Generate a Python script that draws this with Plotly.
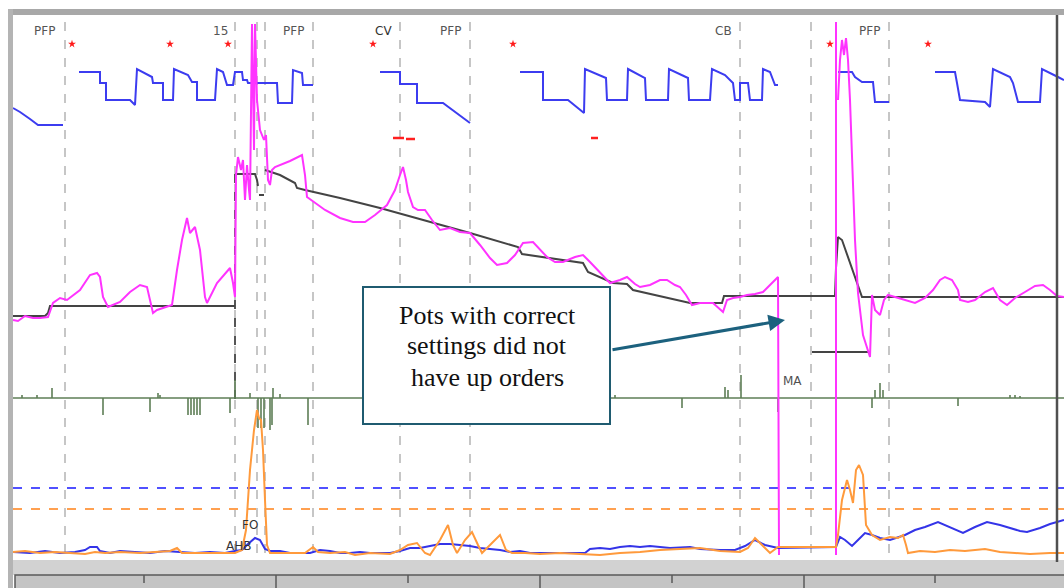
import plotly.graph_objects as go

# ---------------- data (x = time index, y = screen-style signal level) -------------
event_lines_x = [65, 235, 257, 265, 313, 400, 470, 740, 811, 889]
top_label_x = [44, 220, 293, 383, 450, 723, 869]
top_label_text = ["PFP", "15", "PFP", "CV", "PFP", "CB", "PFP"]
red_star_x = [72, 170, 228, 373, 513, 830, 928]

# blue step (setpoint) trace, None separates segments
blue_top_x = [13, 20, 30, 38, 63, None,
              79, 100, 100, 106, 106, 130, 135, 137, 152, 153, 163, 163, 173, 174, 188, 192, 197, 197, 215,
              217, 223, 227, 233, 235, 242, 243, 247, 248, 277, 278, 292, 293, 302, 303, 313, None,
              380, 400, 400, 417, 417, 443, 470, None,
              520, 543, 543, 568, 584, 585, 606, 607, 627, 628, 645, 646, 668, 669, 688, 689, 710, 712, 725,
              730, 733, 735, 740, 740, 748, 750, 762, 763, 770, 775, 778, None,
              838, 852, 855, 862, 873, 875, 889, None,
              935, 955, 957, 960, 985, 990, 993, 1010, 1013, 1018, 1040, 1042, 1058, 1064]
blue_top_y = [108, 112, 119, 125, 125, None,
              72, 72, 83, 83, 100, 100, 105, 69, 77, 83, 83, 100, 100, 69, 75, 82, 82, 100, 100,
              69, 72, 85, 85, 72, 72, 80, 80, 83, 83, 103, 103, 70, 73, 85, 85, None,
              72, 72, 84, 84, 103, 103, 123, None,
              72, 72, 100, 100, 113, 69, 78, 100, 100, 69, 78, 100, 100, 69, 78, 100, 100, 69, 75,
              80, 83, 100, 100, 83, 83, 100, 100, 69, 72, 85, 85, None,
              72, 72, 77, 82, 82, 102, 102, None,
              72, 72, 83, 100, 102, 107, 69, 77, 83, 102, 102, 69, 77, 80]

red_dash_x = [393, 404, None, 406, 415, None, 591, 598]
red_dash_y = [138, 138, None, 139, 139, None, 138, 138]

# black (model) line
black_x = [13, 45, 48, 50, 235, None,
           235, 255, 257, 258, None, 259, 264, None,
           265, 280, 295, 297, 305, 340, 380, 420, 470, 518, 522, 583, 588, 613, 627, 633, 663, 690,
           722, 724, 835, 836, 838, 842, 862, 1064, None,
           812, 868]
black_y = [316, 316, 313, 306, 306, None,
           174, 174, 180, 186, None, 195, 195, None,
           170, 175, 183, 188, 190, 198, 208, 219, 233, 247, 254, 263, 272, 283, 284, 290, 297, 303,
           303, 296, 296, 268, 237, 240, 297, 297, None,
           352, 352]

# magenta (measured) line
mag_x = [13, 18, 25, 33, 40, 48, 53, 60, 67, 80, 90, 97, 100, 103, 108, 120, 130, 140, 147, 150, 153, 157,
         165, 172, 177, 182, 187, 190, 195, 200, 205, 207, 217, 230, 233, 235,
         236, 238, 241, 243, 245, 247, 249, 250, 252, 254, 255, 257, 260, 262, 264, 266, 268, 270, 272, 275,
         280, 290, 302, 305, 307, 315, 325, 340, 353, 365, 375, 387, 395, 400, 403, 406, 408, 413, 418, 425,
         432, 440, 450, 460, 470, 480, 490, 497, 507, 515, 523, 533, 540, 547, 555, 563, 575, 583, 590, 600,
         610, 620, 627, 635, 640, 650, 660, 667, 675, 680, 686, 692, 700, 713, 720, 723, 727, 733, 740, 747,
         755, 763, 770, 778, 779, None,
         836, 836, None,
         838, 840, 842, 844, 846, 848, 850, 852, 855, 858, 863, 870, 872, 875, 880, 884, 888, 895, 905, 915,
         925, 933, 940, 945, 952, 958, 960, 968, 975, 985, 993, 1000, 1007, 1015, 1025, 1035, 1043, 1050,
         1057, 1064]
mag_y = [320, 321, 316, 318, 318, 317, 303, 298, 300, 290, 275, 273, 277, 297, 307, 302, 292, 285, 287, 300, 313, 310,
         307, 305, 270, 240, 218, 233, 227, 250, 297, 303, 283, 268, 283, 297,
         175, 157, 170, 160, 200, 165, 190, 200, 24, 150, 24, 100, 130, 135, 140, 135, 180, 185, 170, 167,
         165, 161, 155, 175, 197, 203, 210, 218, 222, 222, 215, 205, 190, 175, 167, 180, 192, 207, 210, 210,
         220, 230, 228, 232, 233, 245, 258, 265, 263, 255, 243, 242, 250, 257, 262, 262, 257, 255, 262, 272,
         283, 280, 277, 284, 287, 285, 280, 280, 285, 287, 295, 305, 303, 303, 310, 312, 300, 298, 297, 295,
         294, 292, 285, 277, 555, None,
         22, 555, None,
         100, 60, 40, 55, 38, 60, 100, 160, 240, 293, 335, 357, 295, 310, 315, 300, 295, 297, 300, 303,
         298, 290, 280, 277, 280, 290, 300, 302, 300, 292, 288, 300, 305, 298, 292, 286, 285, 290,
         296, 297]

# green event histogram
green_base_y = 398
green_tick_x = [22, 37, 52, 103, 150, 158, 160, 188, 191, 194, 197, 200, 230, 235, 250, 258, 261, 264, 270,
                272, 273, 280, 308, 615, 682, 725, 728, 741, 778, 872, 875, 880, 883, 958, 1010, 1015, 1020]
green_tick_end = [395, 395, 388, 415, 412, 393, 395, 415, 415, 415, 415, 415, 413, 380, 393, 428, 428, 428, 430,
                  425, 388, 394, 425, 395, 408, 387, 390, 375, 412, 408, 390, 383, 390, 406, 395, 395, 396]

# bottom traces
blue_low_x = [13, 30, 45, 60, 75, 85, 90, 97, 100, 110, 120, 135, 150, 165, 180, 195, 210, 225, 235, 242, 248,
              255, 260, 265, 270, 280, 290, 310, 320, 330, 340, 350, 360, 370, 390, 400, 410, 420, 430, 440,
              450, 460, 470, 480, 490, 500, 510, 520, 530, 550, 570, 585, 590, 600, 610, 620, 630, 640, 650,
              660, 670, 690, 700, 720, 735, 745, 755, 765, 775, 778, 836, 840, 845, 852, 858, 865, 872, 880,
              890, 898, 905, 915, 925, 938, 945, 955, 963, 975, 987, 1000, 1010, 1020, 1027, 1040, 1050, 1064]
blue_low_y = [552, 553, 551, 553, 552, 550, 547, 547, 551, 553, 551, 552, 553, 551, 552, 553, 552, 553, 551, 550, 544,
              538, 540, 549, 551, 551, 553, 553, 550, 551, 553, 553, 552, 553, 553, 551, 548, 548, 546, 544,
              544, 545, 546, 548, 549, 550, 552, 551, 553, 553, 553, 553, 549, 548, 549, 547, 546, 547, 546,
              547, 548, 547, 549, 550, 550, 546, 540, 545, 547, 548, 547, 537, 540, 546, 540, 533, 535, 538,
              540, 537, 535, 530, 527, 522, 525, 530, 533, 527, 522, 525, 528, 531, 532, 528, 524, 520]
orange_low_x = [13, 25, 40, 55, 70, 85, 95, 105, 120, 140, 155, 170, 177, 182, 200, 220, 235, 242, 246, 250, 254,
                257, 259, 261, 263, 265, 267, 270, 290, 305, 313, 318, 330, 345, 355, 370, 390, 400, 408, 417,
                425, 430, 440, 448, 453, 457, 465, 472, 478, 482, 490, 500, 506, 512, 525, 540, 560, 580, 600,
                620, 640, 660, 680, 700, 720, 740, 748, 755, 762, 770, 778, 836, 838, 842, 847, 850, 853, 856,
                859, 863, 866, 872, 880, 890, 898, 903, 906, 908, 920, 935, 950, 965, 985, 1000, 1015, 1030,
                1050, 1064]
orange_low_y = [552, 551, 553, 552, 553, 554, 552, 553, 552, 553, 552, 551, 548, 553, 553, 553, 553, 550, 530, 470, 430,
                410, 418, 420, 450, 500, 545, 553, 553, 553, 547, 552, 553, 552, 555, 553, 554, 550, 545, 543,
                553, 555, 540, 525, 545, 553, 540, 532, 545, 553, 545, 535, 550, 553, 553, 554, 553, 554, 555,
                553, 552, 550, 549, 548, 551, 552, 548, 538, 545, 553, 547, 547, 535, 500, 480, 490, 503, 470,
                465, 475, 525, 535, 540, 537, 538, 535, 545, 553, 551, 552, 550, 551, 549, 552, 553, 554,
                553, 553]
blue_limit_y = 488
orange_limit_y = 509

scroll_major_x = [276, 540, 804]
scroll_minor_x = [144, 408, 672, 935]

# ---------------- figure ----------------
fig = go.Figure()

shapes = []
# frame
shapes.append(dict(type="rect", x0=8, x1=1064, y0=9, y1=15, fillcolor="#a8a8a8", line_width=0, layer="above"))
shapes.append(dict(type="rect", x0=8, x1=13, y0=9, y1=588, fillcolor="#b4b4b4", line_width=0, layer="above"))
shapes.append(dict(type="rect", x0=13, x1=1064, y0=560, y1=575, fillcolor="#d2d2d2", line_width=0, layer="above"))
shapes.append(dict(type="rect", x0=15, x1=1066, y0=575, y1=590, fillcolor="#c4c4c4",
                   line=dict(color="#5a5a5a", width=1.5), layer="above"))
for xv in scroll_major_x:
    shapes.append(dict(type="line", x0=xv, x1=xv, y0=575, y1=588, line=dict(color="#5a5a5a", width=1.5), layer="above"))
for xv in scroll_minor_x:
    shapes.append(dict(type="line", x0=xv, x1=xv, y0=575, y1=583, line=dict(color="#5a5a5a", width=1.5), layer="above"))
shapes.append(dict(type="line", x0=1057, x1=1057, y0=15, y1=562, line=dict(color="#505050", width=2.5), layer="above"))

# event lines
for xv in event_lines_x:
    shapes.append(dict(type="line", x0=xv, x1=xv, y0=22, y1=558,
                       line=dict(color="#c6c6c6", width=2, dash="dash"), layer="below"))
shapes.append(dict(type="line", x0=235, x1=235, y0=174, y1=400,
                   line=dict(color="#555555", width=2, dash="dash"), layer="below"))
# limit lines
shapes.append(dict(type="line", x0=13, x1=1064, y0=blue_limit_y, y1=blue_limit_y,
                   line=dict(color="#5050ff", width=2, dash="dash"), layer="below"))
shapes.append(dict(type="line", x0=13, x1=1064, y0=orange_limit_y, y1=orange_limit_y,
                   line=dict(color="#ffa050", width=2, dash="dash"), layer="below"))

# green histogram
gx, gy = [13, 1064, None], [green_base_y, green_base_y, None]
for xv, ye in zip(green_tick_x, green_tick_end):
    gx += [xv, xv, None]
    gy += [green_base_y, ye, None]
fig.add_trace(go.Scatter(x=gx, y=gy, mode="lines", line=dict(color="#5e7e56", width=1.6), hoverinfo="skip"))

fig.add_trace(go.Scatter(x=blue_top_x, y=blue_top_y, mode="lines", line=dict(color="#3c3cf0", width=2)))
fig.add_trace(go.Scatter(x=red_dash_x, y=red_dash_y, mode="lines", line=dict(color="#ff2020", width=2.5)))
fig.add_trace(go.Scatter(x=red_star_x, y=[44] * len(red_star_x), mode="markers",
                         marker=dict(symbol="star", size=6, color="#ff1a1a")))
fig.add_trace(go.Scatter(x=black_x, y=black_y, mode="lines", line=dict(color="#444444", width=2)))
fig.add_trace(go.Scatter(x=mag_x, y=mag_y, mode="lines", line=dict(color="#ff33ff", width=2)))
fig.add_trace(go.Scatter(x=blue_low_x, y=blue_low_y, mode="lines", line=dict(color="#3434e8", width=2)))
fig.add_trace(go.Scatter(x=orange_low_x, y=orange_low_y, mode="lines", line=dict(color="#ff9a3c", width=2)))

# annotation box
shapes.append(dict(type="rect", x0=363, x1=610, y0=287, y1=424, fillcolor="white",
                   line=dict(color="#1f5b70", width=2), layer="above"))

annotations = []
for xv, t in zip(top_label_x, top_label_text):
    annotations.append(dict(x=xv, y=31, text=t, showarrow=False, xanchor="center", yanchor="middle",
                            font=dict(family="DejaVu Sans", size=12,
                                      color="#333333" if t == "CV" else "#555555")))
annotations.append(dict(x=792, y=381, text="MA", showarrow=False, font=dict(family="DejaVu Sans", size=12, color="#505050")))
annotations.append(dict(x=250, y=525, text="FO", showarrow=False, font=dict(family="DejaVu Sans", size=12, color="#333333")))
annotations.append(dict(x=238, y=546, text="AHB", showarrow=False, font=dict(family="DejaVu Sans", size=12, color="#333333")))

box_lines = ["Pots with correct", "settings did not", "have up orders"]
box_line_y = [315, 345, 377]
for t, yv in zip(box_lines, box_line_y):
    annotations.append(dict(x=487, y=yv, text=t, showarrow=False, xanchor="center", yanchor="middle",
                            font=dict(family="Liberation Serif", size=26, color="#111111")))
annotations.append(dict(x=785, y=320, ax=611, ay=350, axref="x", ayref="y", xref="x", yref="y",
                        text="", showarrow=True, arrowhead=2, arrowsize=1.1, arrowwidth=3,
                        arrowcolor="#1c617e"))

fig.update_layout(
    width=1064, height=588, margin=dict(l=0, r=0, t=0, b=0),
    paper_bgcolor="white", plot_bgcolor="white", showlegend=False,
    xaxis=dict(range=[0, 1064], visible=False, fixedrange=True),
    yaxis=dict(range=[588, 0], visible=False, fixedrange=True),
    shapes=shapes, annotations=annotations,
)
fig.write_html("out.html", config={"displayModeBar": False},
               post_script="document.body.style.margin='0';document.body.style.overflow='hidden';")
